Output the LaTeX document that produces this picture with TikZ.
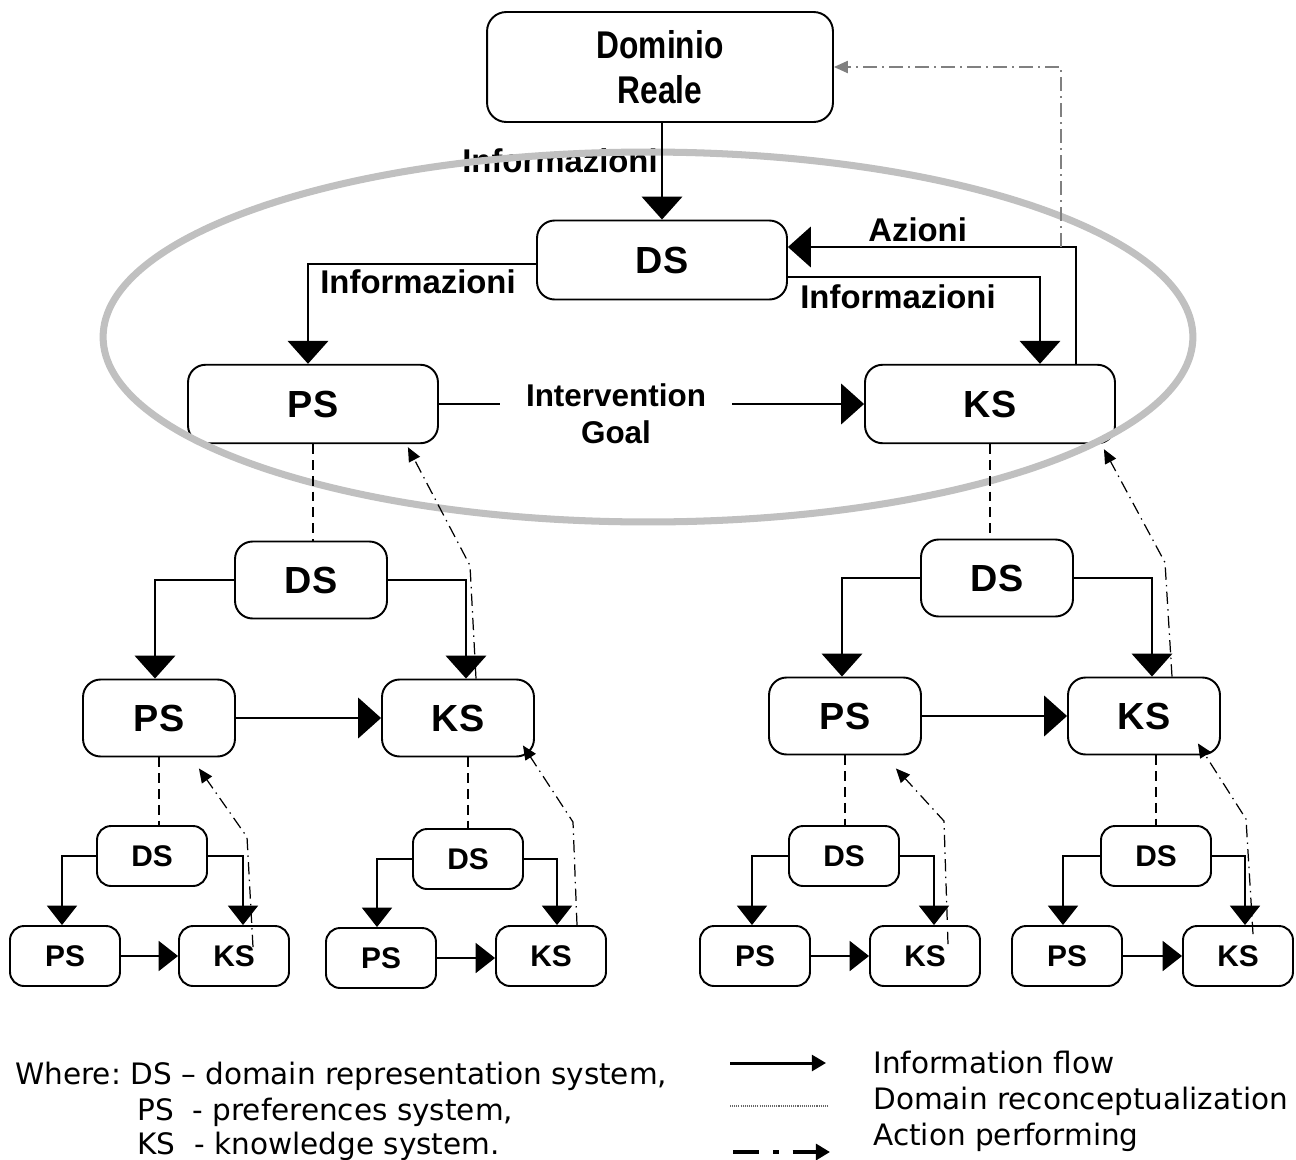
\documentclass[tikz,border=0pt]{standalone}
\usepackage{fontspec}
\setmainfont{Liberation Sans}
\newfontfamily\legendfont{DejaVu Sans}
\newfontfamily\condfont[FakeStretch=0.82]{Liberation Sans}
\usetikzlibrary{arrows.meta}
\definecolor{ringgray}{RGB}{192,192,192}
\definecolor{backgray}{RGB}{128,128,128}
\frenchspacing

\begin{document}
\begin{tikzpicture}[x=0.02cm,y=-0.02cm,
  sys/.style={draw, line width=1.1pt, inner sep=0pt, align=center},
  topbox/.style={sys, rounded corners=10pt, minimum width=5cm, minimum height=1.57cm,
    font=\fontsize{21.5}{24}\selectfont\bfseries},
  midbox/.style={sys, rounded corners=10pt, minimum width=3.04cm, minimum height=1.54cm,
    font=\fontsize{21.5}{24}\selectfont\bfseries},
  lowbox/.style={sys, rounded corners=8pt, minimum width=2.2cm, minimum height=1.2cm,
    font=\fontsize{17}{20}\selectfont\bfseries},
  flow/.style={line width=1.1pt, -{Triangle[length=13pt,width=23pt]}},
  flowsmall/.style={line width=1.1pt, -{Triangle[length=11pt,width=17pt]}},
  recon/.style={line width=1.1pt, dash pattern=on 5.5pt off 3.5pt},
  act/.style={line width=0.7pt, dash pattern=on 7pt off 3pt on 0.8pt off 3pt,
    -{Triangle[length=8pt,width=7pt]}},
  backact/.style={backgray, line width=0.8pt, dash pattern=on 8pt off 3pt on 0.8pt off 3pt,
    -{Triangle[length=8pt,width=7pt]}},
  lbl/.style={inner sep=0pt, font=\fontsize{18.7}{21}\selectfont\bfseries},
  legend/.style={inner sep=0pt, anchor=base west, font=\legendfont\fontsize{16.8}{20}\selectfont}]

% page
\fill[white] (0,0) rectangle (1296,1160);
\useasboundingbox (0,0) rectangle (1296,1160);

% ---------- top level systems ----------
\node[topbox, font=\condfont\fontsize{22}{25.5}\selectfont\bfseries, rounded corners=11pt,
      minimum width=6.92cm, minimum height=2.2cm] (dr) at (660,67) {Dominio\\Reale};
\node[topbox, minimum height=1.58cm] (ds0) at (662,260) {DS};
\node[topbox] (ps0) at (313,404) {PS};
\node[topbox] (ks0) at (990,404) {KS};

% label partly covered by the ring
\node[lbl, anchor=east] (infoA) at (658,161) {Informazioni};

% ring around the top level
\draw[ringgray, line width=4pt] (648,337) ellipse [x radius=10.9cm, y radius=3.7cm];

% ---------- level 2 ----------
\node[midbox] (dsL) at (311,580) {DS};
\node[midbox] (psL) at (159,718) {PS};
\node[midbox] (ksL) at (458,718) {KS};
\node[midbox] (dsR) at (997,578) {DS};
\node[midbox] (psR) at (845,716) {PS};
\node[midbox] (ksR) at (1144,716) {KS};

% ---------- level 3 ----------
\node[lowbox] (dsA) at (152,856) {DS};
\node[lowbox] (psA) at (65,956) {PS};
\node[lowbox] (ksA) at (234,956) {KS};
\node[lowbox] (dsB) at (468,859) {DS};
\node[lowbox] (psB) at (381,958) {PS};
\node[lowbox] (ksB) at (551,956) {KS};
\node[lowbox] (dsC) at (844,856) {DS};
\node[lowbox] (psC) at (755,956) {PS};
\node[lowbox] (ksC) at (925,956) {KS};
\node[lowbox] (dsD) at (1156,856) {DS};
\node[lowbox] (psD) at (1067,956) {PS};
\node[lowbox] (ksD) at (1238,956) {KS};

% ---------- top level connectors ----------
\draw[flow] (dr.south -| ds0.north) -- (ds0.north);

\coordinate (bl) at (308,264);
\draw[flow] (bl -| ds0.west) -- (bl) -- (bl |- ps0.north);
\node[lbl, anchor=west] (infoB) at (320,282) {Informazioni};

\coordinate (br) at (1040,277);
\draw[flow] (br -| ds0.east) -- (br) -- (br |- ks0.north);
\node[lbl, anchor=west] (infoC) at (800,297) {Informazioni};

\coordinate (az) at (1076,247);
\draw[flow] (ks0.north -| az) -- (az) -- (az -| ds0.east);
\node[lbl, anchor=west] (azioni) at (868,230) {Azioni};

\coordinate (g0) at (1061,247);
\draw[backact] (g0) |- (dr.east);

\draw[flow] (ps0.east) -- (ks0.west);
\node[fill=white, inner sep=0pt, minimum width=4.64cm, minimum height=2.1cm, align=center,
      font=\fontsize{17.9}{21}\selectfont\bfseries] (goal) at (616,414) {Intervention\\Goal};

% domain reconceptualization
\draw[recon] (ps0.south) -- (ps0.south |- dsL.north);
\draw[recon] (ks0.south) -- (ks0.south |- dsR.north);
\draw[recon] (psL.south) -- (psL.south |- dsA.north);
\draw[recon] (dsB.north |- ksL.south) -- (dsB.north);
\draw[recon] (psR.south) -- (psR.south |- dsC.north);
\draw[recon] (dsD.north |- ksR.south) -- (dsD.north);

% ---------- level 2 connectors ----------
\draw[flow] (dsL.west) -| ([shift={(-4,0)}]psL.north);
\draw[flow] (dsL.east) -| ([shift={(8,0)}]ksL.north);
\draw[flow] (psL.east) -- (ksL.west);
\draw[flow] (dsR.west) -| ([shift={(-3,0)}]psR.north);
\draw[flow] (dsR.east) -| ([shift={(8,0)}]ksR.north);
\draw[flow] (psR.east) -- (ksR.west);

% ---------- level 3 connectors ----------
\draw[flowsmall] (dsA.west) -| ([shift={(-3,0)}]psA.north);
\draw[flowsmall] (dsA.east) -| ([shift={(9,0)}]ksA.north);
\draw[flowsmall] (psA.east) -- (ksA.west);
\draw[flowsmall] (dsB.west) -| ([shift={(-4,0)}]psB.north);
\draw[flowsmall] (dsB.east) -| ([shift={(6,0)}]ksB.north);
\draw[flowsmall] (psB.east) -- (psB.east -| ksB.west);
\draw[flowsmall] (dsC.west) -| ([shift={(-3,0)}]psC.north);
\draw[flowsmall] (dsC.east) -| ([shift={(9,0)}]ksC.north);
\draw[flowsmall] (psC.east) -- (ksC.west);
\draw[flowsmall] (dsD.west) -| ([shift={(-4,0)}]psD.north);
\draw[flowsmall] (dsD.east) -| ([shift={(7,0)}]ksD.north);
\draw[flowsmall] (psD.east) -- (ksD.west);

% ---------- action performing ----------
\draw[act] ([shift={(18,0)}]ksL.north) -- ++(-6,-113) -- ([shift={(-31,3)}]ps0.south east);
\draw[act] ([shift={(28,0)}]ksR.north) -- ++(-7,-114) -- ([shift={(-12,5)}]ks0.south east);
\draw[act] ([shift={(19,22)}]ksA.north) -- ++(-6,-110) -- ([shift={(-37,11)}]psL.south east);
\draw[act] ([shift={(26,0)}]ksB.north) -- ++(-4,-103) -- ([shift={(-12,-12)}]ksL.south east);
\draw[act] ([shift={(23,19)}]ksC.north) -- ++(-4,-123) -- ([shift={(-26,13)}]psR.south east);
\draw[act] ([shift={(15,9)}]ksD.north) -- ++(-7,-115) -- ([shift={(-23,-12)}]ksR.south east);

% ---------- legend ----------
\node[legend] (w1) at (15,1084) {Where: DS – domain representation system,};
\node[legend] (w2) at (137,1120) {PS\ \ - preferences system,};
\node[legend] (w3) at (137,1154) {KS\ \ - knowledge system.};

\node[legend] (k1) at (873,1073) {Information flow};
\node[legend] (k2) at (873,1109) {Domain reconceptualization};
\node[legend] (k3) at (873,1145) {Action performing};

\coordinate (s1a) at (730,1063);
\coordinate (s1b) at (826,1063);
\draw[line width=1.7pt, -{Triangle[length=8pt,width=9pt]}] (s1a) -- (s1b);
\coordinate (s2a) at (730,1106);
\coordinate (s2b) at (828,1106);
\draw[black!60, line width=0.8pt, dash pattern=on 0.6pt off 0.6pt] (s2a) -- (s2b);
\coordinate (s3a) at (733,1152);
\coordinate (s3b) at (830,1152);
\draw[line width=2.3pt, dash pattern=on 15pt off 8pt on 3pt off 8pt on 40pt,
      -{Triangle[length=8pt,width=9pt]}] (s3a) -- (s3b);

\end{tikzpicture}
\end{document}
